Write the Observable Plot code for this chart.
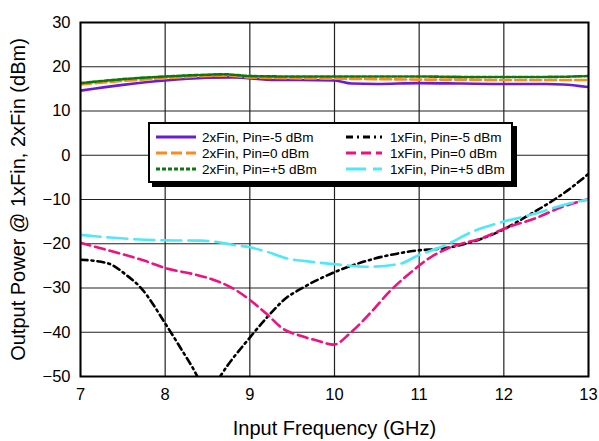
<!DOCTYPE html>
<html><head><meta charset="utf-8">
<script src="https://cdn.jsdelivr.net/npm/d3@7"></script>
<script src="https://cdn.jsdelivr.net/npm/@observablehq/plot@0.6"></script>
<style>
body{margin:0;background:#fff;font-family:"Liberation Sans",Arial,sans-serif;}
#wrap{position:relative;width:599px;height:441px;}
#legend{position:absolute;left:148px;top:122px;width:361px;height:57px;border:2px solid #000;background:#fff;box-shadow:4px 4px 0 #000;font-size:13.5px;}
#legend .item{position:absolute;display:flex;align-items:center;height:16px;}
#legend svg{display:block;}
</style></head><body>
<div id="wrap"><div id="chart"></div><div id="legend"></div></div>
<script>
const xTicks = [7,8,9,10,11,12,13];
const yTicks = [-50,-40,-30,-20,-10,0,10,20,30];

const f2m5 = [7,7.5,8,8.5,8.8,9.3,9.6,10,10.2,10.5,11,11.5,12,12.5,12.7,13];
const v2m5 = [14.6,15.9,16.9,17.5,17.6,17.0,17.0,16.9,16.2,16.1,16.3,16.2,16.1,16.1,16.0,15.4];
const f20 = [7,7.5,8,8.5,8.7,9,9.5,10,10.5,11,11.5,12,12.5,13];
const v20 = [16.0,16.8,17.4,17.9,18.0,17.6,17.4,17.3,17.2,17.1,17.1,17.0,17.0,17.0];
const f2p5 = [7,7.5,8,8.5,8.7,9,9.5,10,10.5,11,11.5,12,12.5,13];
const v2p5 = [16.3,17.2,17.8,18.2,18.3,17.9,17.8,17.8,17.8,17.8,17.7,17.7,17.7,17.9];

const f1m5 = [7,7.32,7.55,7.71,8.02,8.18,8.38,8.5,8.65,9.0,9.2,9.44,9.6,9.99,10.39,10.9,11.37,11.96,12.35,12.55,12.75,13];
const v1m5 = [-23.6,-24.4,-27.2,-29.9,-38.6,-43.5,-50,-55,-50,-41.2,-36.7,-32.1,-30.2,-26.5,-23.8,-21.7,-20.8,-17.1,-12.9,-10.6,-8.0,-4.2];
const f10 = [7,7.35,7.75,8.02,8.34,8.65,8.81,9.0,9.2,9.4,9.6,9.8,9.99,10.19,10.43,10.66,10.9,11.1,11.37,11.76,12.04,12.35,12.7,13];
const v10 = [-19.8,-21.6,-23.8,-25.6,-26.9,-28.7,-30.2,-32.7,-35.9,-39.3,-40.8,-41.9,-42.8,-40.1,-35.5,-30.6,-26.5,-23.5,-20.8,-18.6,-16.3,-14.4,-11.6,-9.9];
const f1p5 = [7,7.35,7.94,8.42,8.65,8.81,9.0,9.2,9.48,9.6,9.99,10.39,10.78,10.98,11.29,11.65,11.96,12.35,12.75,13];
const v1p5 = [-18.0,-18.6,-19.2,-19.3,-19.7,-20.3,-20.8,-21.8,-23.5,-23.8,-24.6,-25.2,-24.5,-22.7,-20.5,-17.1,-15.2,-13.3,-11.0,-10.0];

const series = [
  {name:"2xFin, Pin=-5 dBm", f:f2m5, v:v2m5, color:"#6a1bd6", dash:null, w:2.6},
  {name:"2xFin, Pin=0 dBm", f:f20, v:v20, color:"#ff8a1c", dash:"11,4", w:2.6},
  {name:"2xFin, Pin=+5 dBm", f:f2p5, v:v2p5, color:"#0a780a", dash:"4,2", w:2.6},
  {name:"1xFin, Pin=-5 dBm", f:f1m5, v:v1m5, color:"#000000", dash:"7,4,2,4", w:2.6},
  {name:"1xFin, Pin=0 dBm", f:f10, v:v10, color:"#f0107e", dash:"10,5", w:2.6},
  {name:"1xFin, Pin=+5 dBm", f:f1p5, v:v1p5, color:"#4de8fc", dash:"20,7", w:2.6}
];

const marks = [
  Plot.ruleX(xTicks, {stroke:"#222", strokeWidth:1.2}),
  Plot.ruleY(yTicks, {stroke:"#222", strokeWidth:1.2}),
];
for (const s of series) {
  const data = s.f.map((x,i)=>({x, y:s.v[i]}));
  marks.push(Plot.line(data, {x:"x", y:"y", stroke:s.color, strokeWidth:s.w, strokeDasharray:s.dash, clip:true, curve:"monotone-x"}));
}
marks.push(Plot.frame({stroke:"#000", strokeWidth:2}));
marks.push(Plot.axisX(xTicks, {tickSize:0, tickPadding:12, fontSize:16.5, label:"Input Frequency (GHz)", labelAnchor:"center", labelOffset:58, labelArrow:"none"}));
marks.push(Plot.axisY(yTicks, {tickSize:0, tickPadding:10, fontSize:16.5, label:"Output Power @ 1xFin, 2xFin (dBm)", labelAnchor:"center", labelOffset:70, labelArrow:"none"}));

const chart = Plot.plot({
  width:599, height:441,
  marginLeft:80, marginRight:11, marginTop:22, marginBottom:65,
  x:{domain:[7,13]},
  y:{domain:[-50,30]},
  style:{fontFamily:"Liberation Sans, Arial, sans-serif", fontSize:"16.5px", color:"#000", background:"#fff"},
  marks
});
document.getElementById("chart").appendChild(chart);
d3.select(chart).selectAll("[aria-label='x-axis label'] text, [aria-label='y-axis label'] text").style("font-size","20px");

// legend
const leg = document.getElementById("legend");
const pos = [[6,5],[6,21],[6,37],[196,5],[196,21],[196,37]];
series.forEach((s,i)=>{
  const d = document.createElement("div");
  d.className="item";
  d.style.left = pos[i][0]+"px"; d.style.top = pos[i][1]+"px";
  const lw = i<3 ? 40 : 36;
  d.innerHTML = `<svg width="${lw}" height="16"><line x1="0" y1="8" x2="${lw}" y2="8" stroke="${s.color}" stroke-width="3" ${s.dash?`stroke-dasharray="${s.dash}"`:""}/></svg><span style="margin-left:${i<3?6:8}px">${s.name}</span>`;
  leg.appendChild(d);
});
</script></body></html>
